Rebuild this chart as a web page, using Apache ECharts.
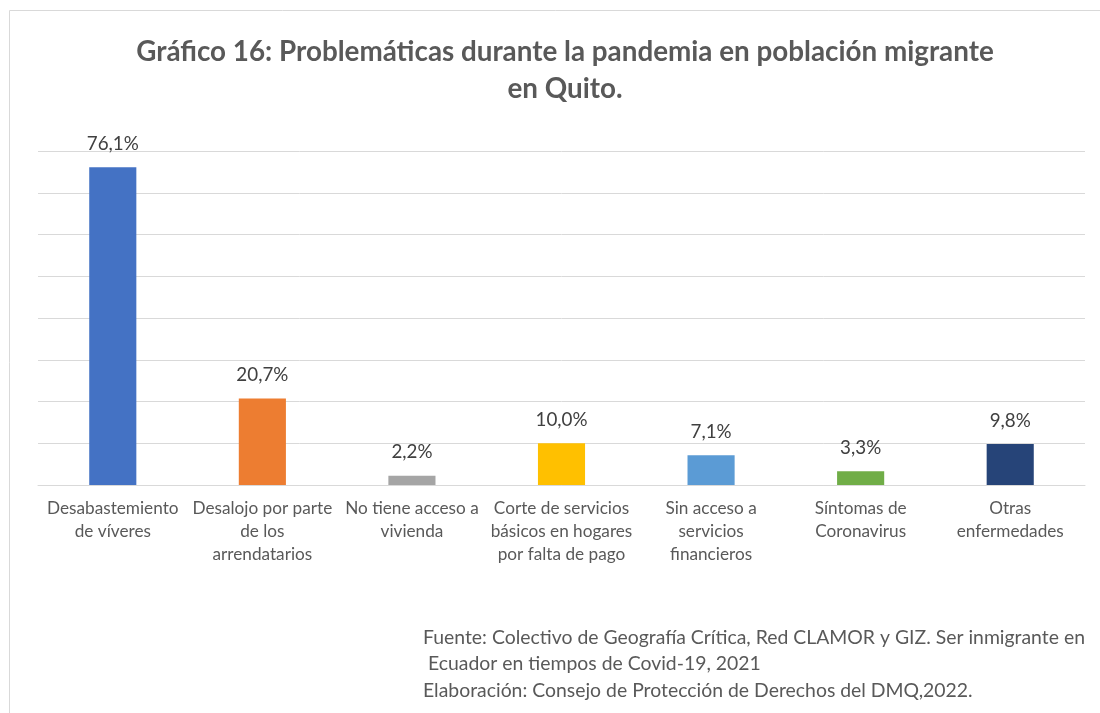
<!DOCTYPE html>
<html>
<head>
<meta charset="utf-8">
<script src="https://cdn.jsdelivr.net/npm/echarts@6/dist/echarts.min.js"></script>
<style>
  html, body { margin: 0; padding: 0; background: #fff; }
  #chart { width: 1100px; height: 713px; }
</style>
</head>
<body>
<div id="chart"></div>
<script>
// datos
const categories = [
  'Desabastemiento\nde víveres',
  'Desalojo por parte\nde los\narrendatarios',
  'No tiene acceso a\nvivienda',
  'Corte de servicios\nbásicos en hogares\npor falta de pago',
  'Sin acceso a\nservicios\nfinancieros',
  'Síntomas de\nCoronavirus',
  'Otras\nenfermedades'
]
const values = [76.1, 20.7, 2.2, 10.0, 7.1, 3.3, 9.8]
const barColors = ['#4472C4', '#ED7D31', '#A5A5A5', '#FFC000', '#5B9BD5', '#70AD47', '#264478']
const footerLines = [
  'Fuente: Colectivo de Geografía Crítica, Red CLAMOR y GIZ. Ser inmigrante en',
  ' Ecuador en tiempos de Covid-19, 2021',
  'Elaboración: Consejo de Protección de Derechos del DMQ,2022.'
]

const font = 'Lato, "Open Sans", sans-serif'
const gray = '#595959'

const chart = echarts.init(document.getElementById('chart'))

const option = {
  animation: false,
  title: {
    text: 'Gráfico 16: Problemáticas durante la pandemia en población migrante\nen Quito.',
    left: 560,
    top: 29,
    textAlign: 'center',
    textStyle: {
      fontFamily: font,
      fontSize: 27.8,
      fontWeight: 'bold',
      color: gray,
      lineHeight: 37
    }
  },
  grid: {
    left: 38,
    right: 15,
    top: 151,
    bottom: 228
  },
  xAxis: {
    type: 'category',
    data: categories,
    axisLine: { lineStyle: { color: '#d9d9d9', width: 1 } },
    axisTick: { show: false },
    axisLabel: {
      interval: 0,
      margin: 12,
      fontFamily: font,
      fontSize: 17.2,
      color: gray,
      lineHeight: 23,
      align: 'center'
    }
  },
  yAxis: {
    type: 'value',
    min: 0,
    max: 80,
    interval: 10,
    axisLabel: { show: false },
    axisLine: { show: false },
    axisTick: { show: false },
    splitLine: { lineStyle: { color: '#d9d9d9', width: 1 } }
  },
  series: [
    {
      type: 'bar',
      barWidth: '31.5%',
      data: values.map((v, i) => ({ value: v, itemStyle: { color: barColors[i] } })),
      label: {
        show: true,
        position: 'top',
        distance: 14,
        fontFamily: font,
        fontSize: 18.8,
        color: '#404040',
        formatter: p => p.value.toFixed(1).replace('.', ',') + '%'
      }
    }
  ],
  graphic: [
    {
      type: 'rect',
      shape: { x: 9.5, y: 10.5, width: 1200, height: 800 },
      style: { fill: 'none', stroke: '#d9d9d9', lineWidth: 1 },
      silent: true
    },
    ...footerLines.map((t, i) => ({
      type: 'text',
      left: 423,
      top: 628 + i * 26.5,
      style: {
        text: t,
        fontFamily: font,
        fontSize: 19.4,
        fill: gray
      }
    }))
  ]
}

chart.setOption(option)
window.addEventListener('resize', () => chart.resize())
</script>
</body>
</html>
